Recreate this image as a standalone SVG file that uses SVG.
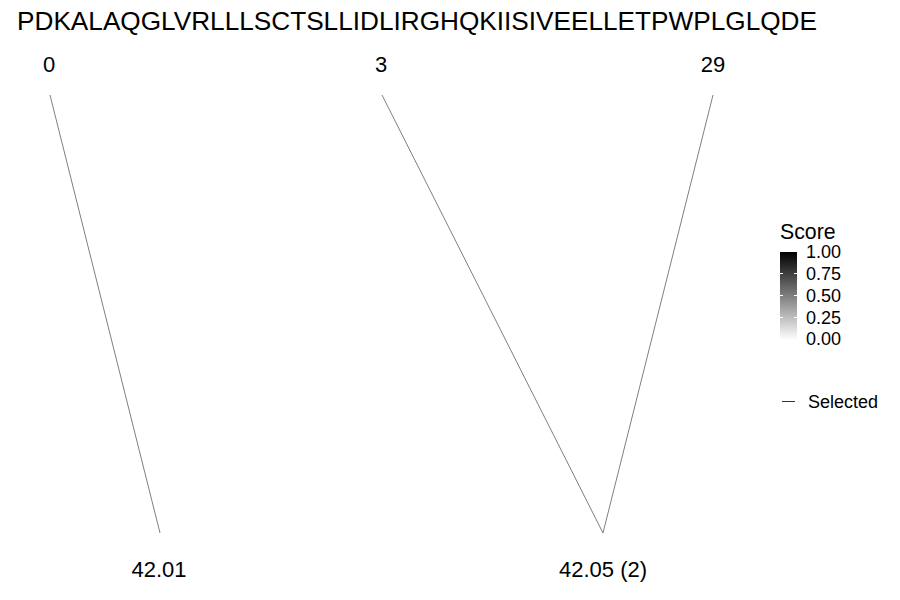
<svg xmlns="http://www.w3.org/2000/svg" width="900" height="600" viewBox="0 0 900 600">
<style>
text{font-family:"Liberation Sans",Arial,sans-serif;fill:#000}
.seq{font-size:26.2px}
.lab{font-size:22px;text-anchor:middle}
.leg{font-size:18px}
.edge{stroke:#7f7f7f;stroke-width:1;fill:none}
</style>
<defs>
<linearGradient id="g" x1="0" y1="1" x2="0" y2="0">
<stop offset="0" stop-color="#ffffff"/>
<stop offset="1" stop-color="#000000"/>
</linearGradient>
</defs>
<rect width="900" height="600" fill="#fff"/>
<text class="seq" x="17" y="30">PDKALAQGLVRLLLSCTSLLIDLIRGHQKIISIVEELLETPWPLGLQDE</text>
<g id="top0"><text class="lab" x="49" y="72">0</text></g>
<g id="top3"><text class="lab" x="381" y="72">3</text></g>
<g id="top29"><text class="lab" x="713" y="72">29</text></g>
<g id="bot1"><text class="lab" x="159" y="577">42.01</text></g>
<g id="bot2"><text class="lab" x="603" y="577">42.05 (2)</text></g>
<g id="connectors">
<line class="edge" x1="50" y1="95" x2="160" y2="533"/>
<line class="edge" x1="382" y1="95" x2="603" y2="533"/>
<line class="edge" x1="713" y1="95" x2="603" y2="533"/>
</g>
<g id="legend">
<text x="780" y="239" style="font-size:21.3px">Score</text>
<rect x="780" y="252" width="17" height="88" fill="url(#g)"/>
<g stroke="#fff" stroke-width="1">
<line x1="780" y1="273.5" x2="783" y2="273.5"/><line x1="794" y1="273.5" x2="797" y2="273.5"/>
<line x1="780" y1="295.5" x2="783" y2="295.5"/><line x1="794" y1="295.5" x2="797" y2="295.5"/>
<line x1="780" y1="317.5" x2="783" y2="317.5"/><line x1="794" y1="317.5" x2="797" y2="317.5"/>
</g>
<text class="leg" x="806" y="258">1.00</text>
<text class="leg" x="806" y="280">0.75</text>
<text class="leg" x="806" y="302">0.50</text>
<text class="leg" x="806" y="324">0.25</text>
<text class="leg" x="806" y="345">0.00</text>
<line x1="782" y1="401.5" x2="795" y2="401.5" stroke="#333" stroke-width="1"/>
<text class="leg" x="808" y="408">Selected</text>
</g>
</svg>
